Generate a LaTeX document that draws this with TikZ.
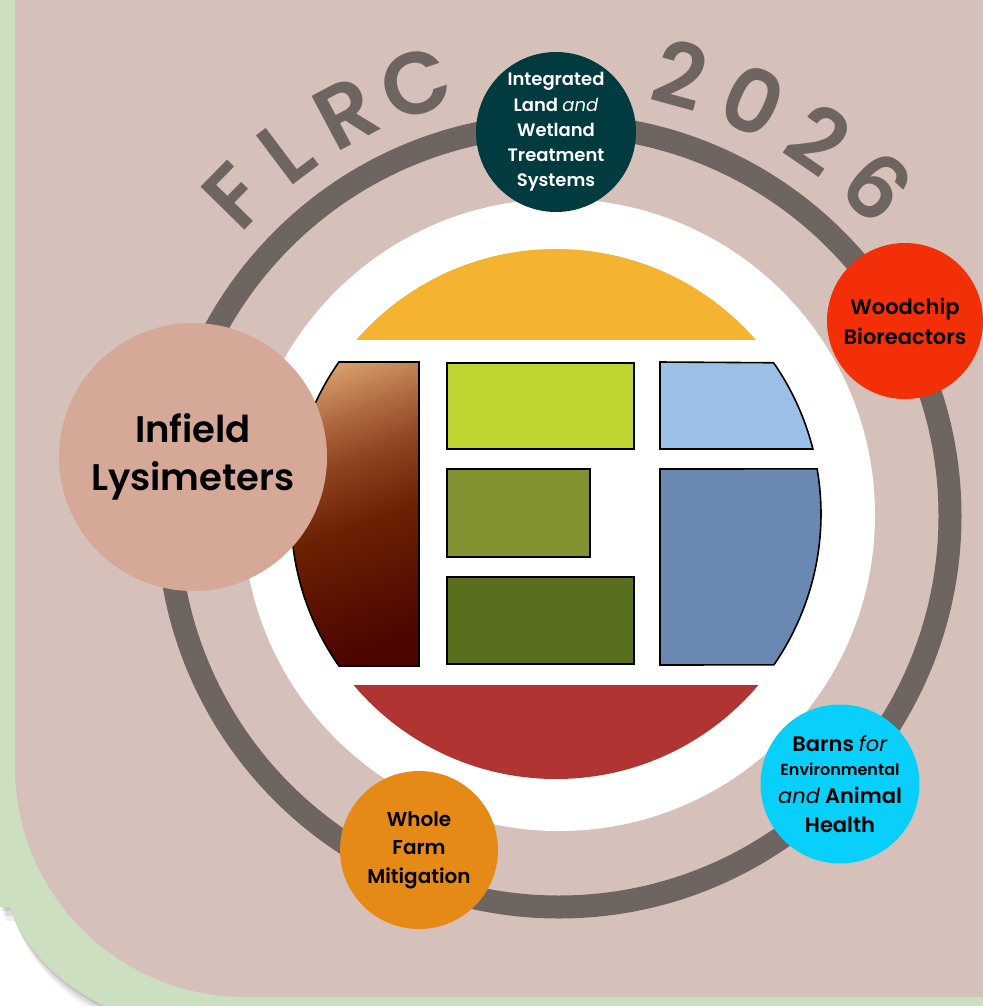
\documentclass[tikz,border=0pt]{standalone}
\usepackage{fontspec}
\setmainfont{Poppins}
\newfontfamily\circfont{Poppins}[BoldFont={* SemiBold}]
\newfontfamily\flrcfont{Poppins SemiBold}
\usetikzlibrary{calc}

\definecolor{pagegreen}{HTML}{CCDFC0}
\definecolor{panel}{HTML}{D5C1BA}
\definecolor{ringgray}{HTML}{6E6460}
\definecolor{capyellow}{HTML}{F4B331}
\definecolor{capred}{HTML}{B03432}
\definecolor{lime}{HTML}{BFD331}
\definecolor{olive}{HTML}{839230}
\definecolor{fieldgreen}{HTML}{5A6F1E}
\definecolor{skyblue}{HTML}{9BBFE6}
\definecolor{steelblue}{HTML}{6989B3}
\definecolor{tanbr}{HTML}{D69C69}
\definecolor{clay}{HTML}{B06A42}
\definecolor{rustbr}{HTML}{8E4220}
\definecolor{midbr}{HTML}{6C2003}
\definecolor{darkbr}{HTML}{4E0600}
\definecolor{itwsteal}{HTML}{023B3F}
\definecolor{woodred}{HTML}{F22F06}
\definecolor{lysipink}{HTML}{D5A898}
\definecolor{farmorange}{HTML}{E68A17}
\definecolor{barncyan}{HTML}{09D0FA}

\pgfdeclareverticalshading{soil}{100bp}{color(0bp)=(darkbr); color(25bp)=(darkbr);
  color(47bp)=(midbr); color(59bp)=(rustbr); color(68bp)=(clay); color(77bp)=(tanbr);
  color(100bp)=(tanbr)}

\begin{document}
\begin{tikzpicture}[x=1pt, y=1pt,
    bubble/.style = {circle, inner sep=0pt, align=center, font=\circfont\bfseries},
    tile/.style = {draw=black, line width=1.6pt},
    flrc/.style = {text=ringgray, anchor=base, inner sep=0pt,
                   font=\flrcfont\fontsize{88}{88}\selectfont}]
  \useasboundingbox (0,0) rectangle (982,-1006);
  \fill[white] (0,0) rectangle (982,-1006);

  % soft shadow under the green card
  \foreach \s/\o in {4pt/.10, 9pt/.08, 14pt/.06}
    \fill[black, opacity=\o, yshift=-\s, xshift=.4*\s]
      (0,0) -- (0,-850) .. controls (0,-930) and (50,-990) .. (140,-1020) -- (1000,-1020) -- (1000,0) -- cycle
      (0,0) rectangle (16,-907);
  \fill[pagegreen] (0,20) -- (0,-850) .. controls (0,-930) and (50,-990) .. (140,-1020)
    -- (1000,-1020) -- (1000,20) -- cycle;
  \fill[pagegreen] (0,20) rectangle (16,-907);
  \fill[panel] (15,20) -- (15,-767) arc[start angle=180, end angle=270, radius=230]
    -- (1000,-997) -- (1000,20) -- cycle;

  \coordinate (ctr) at (559,-516);
  \coordinate (core) at (556,-514);

  % lettering round the ring
  \foreach \ch/\ang [count=\i] in {F/135.5, L/127, R/118, C/108.5, 2/74.7, 0/65, 2/55.5, 6/46}
    \node[flrc, rotate=\ang-90] (flrc\i) at ([shift={(560,-516)}]\ang:425) {\ch};

  \draw[ringgray, line width=23pt] (ctr) circle[radius=391];
  \fill[white] (559,-515) circle[radius=316];

  \begin{scope}
    \clip (core) circle[radius=265];
    \fill[capyellow] (280,-230) rectangle (840,-340);
    \fill[capred] (280,-685) rectangle (840,-800);
  \end{scope}

  \shadedraw[tile, shading=soil, shading angle=20]
    (419,-362) -- ([shift={(core)}]145:265) arc[start angle=145, end angle=215, radius=265]
    -- (419,-666) -- cycle;
  \filldraw[tile, fill=lime] (447,-363) rectangle (634,-449);
  \filldraw[tile, fill=olive] (447,-469) rectangle (590,-557);
  \filldraw[tile, fill=fieldgreen] (447,-577) rectangle (634,-664);
  \filldraw[tile, fill=skyblue] (660,-362) -- ([shift={(core)}]34.8:265)
    arc[start angle=34.8, end angle=14.2, radius=265] -- (660,-449) -- cycle;
  \filldraw[tile, fill=steelblue] (660,-469) -- ([shift={(core)}]9.8:265)
    arc[start angle=9.8, end angle=-34.7, radius=265] -- (660,-665) -- cycle;

  % the five programmes
  \node[bubble, fill=itwsteal, text=white, minimum size=160pt,
        font=\circfont\bfseries\fontsize{18}{25.2}\selectfont] (itws) at (556,-132)
    {Integrated\\Land \textit{\mdseries and}\\Wetland\\Treatment\\Systems};
  \node[bubble, fill=woodred, minimum size=156pt,
        font=\circfont\bfseries\fontsize{21}{30}\selectfont] (wood) at (905,-321)
    {Woodchip\\Bioreactors};
  \node[bubble, fill=lysipink, minimum size=268pt,
        font=\circfont\bfseries\fontsize{37}{48}\selectfont] (lysi) at (193,-457)
    {Infield\\Lysimeters};
  \node[bubble, fill=farmorange, minimum size=158pt,
        font=\circfont\bfseries\fontsize{20}{28.5}\selectfont] (farm) at (419,-850)
    {Whole\\Farm\\Mitigation};
  \node[bubble, fill=barncyan, minimum size=159pt,
        font=\circfont\bfseries\fontsize{21}{28.5}\selectfont] (barn) at (840,-784)
    {Barns \textit{\mdseries for}\\[-5pt]{\fontsize{16}{20}\selectfont Environmental}\\
     \textit{\mdseries and} Animal\\Health};
\end{tikzpicture}
\end{document}
